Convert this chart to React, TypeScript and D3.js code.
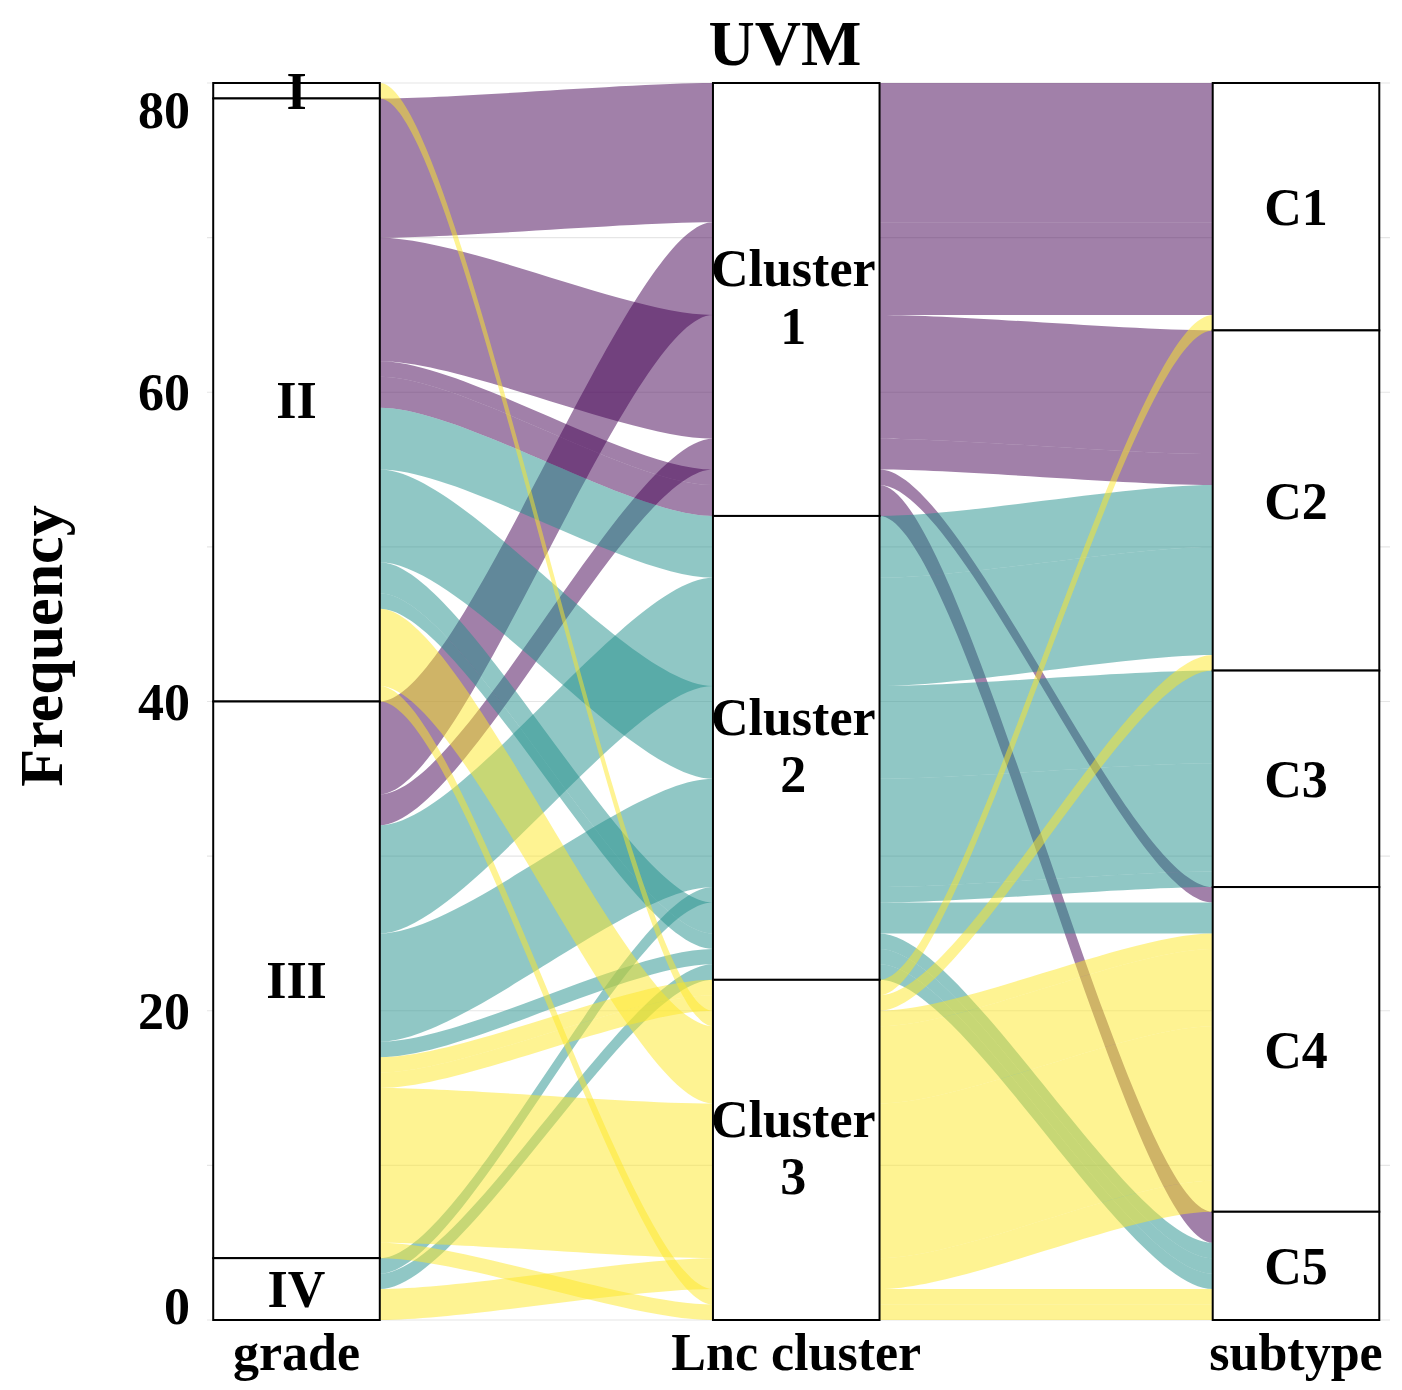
import React from "react";
import * as d3 from "d3";

// Factor levels, top to bottom on each axis
const grades = ["I", "II", "III", "IV"];
const clusters = ["Cluster 1", "Cluster 2", "Cluster 3"];
const clusterLines = [["Cluster", "1"], ["Cluster", "2"], ["Cluster", "3"]];
const subtypes = ["C1", "C2", "C3", "C4", "C5"];
const axisTitles = ["grade", "Lnc cluster", "subtype"];
const clusterColors = ["#440154", "#21908C", "#FDE725"];
const yTicks = [0, 20, 40, 60, 80];
const yGrid = [0, 10, 20, 30, 40, 50, 60, 70, 80];

// One alluvium per grade / cluster / subtype combination, with its patient count
const flowGrade = ["I", "II", "II", "II", "II", "II", "II", "II", "II", "II", "II", "III", "III", "III", "III", "III", "III", "III", "III", "III", "IV", "IV", "IV"];
const flowCluster = ["Cluster 3", "Cluster 1", "Cluster 1", "Cluster 1", "Cluster 1", "Cluster 2", "Cluster 2", "Cluster 2", "Cluster 2", "Cluster 3", "Cluster 3", "Cluster 1", "Cluster 1", "Cluster 2", "Cluster 2", "Cluster 2", "Cluster 3", "Cluster 3", "Cluster 3", "Cluster 3", "Cluster 2", "Cluster 2", "Cluster 3"];
const flowSubtype = ["C4", "C1", "C2", "C4", "C5", "C2", "C3", "C4", "C5", "C4", "C5", "C1", "C2", "C2", "C3", "C5", "C1", "C2", "C4", "C5", "C3", "C5", "C4"];
const flowCount = [1, 9, 8, 1, 2, 4, 6, 2, 1, 5, 1, 6, 2, 7, 7, 1, 1, 1, 10, 1, 1, 1, 2];

const W = 1402;
const H = 1390;
const FONT = "'Liberation Serif', 'Times New Roman', Times, serif";

// Sort keys used to stack lodes inside each axis (axis itself, then the others)
const lodeKeys = [[0, 1, 2], [1, 2, 0], [2, 1, 0]];

export default function App() {
  const levels = [grades, clusters, subtypes];
  const alluvia = flowCount.map((n, i) => ({
    k: [grades.indexOf(flowGrade[i]), clusters.indexOf(flowCluster[i]), subtypes.indexOf(flowSubtype[i])],
    n,
  }));
  const total = d3.sum(flowCount);

  const x = d3.scaleLinear().domain([1, 3]).range([296.5, 1296]);
  const y = d3.scaleLinear().domain([0, total]).range([1320, 83]);
  const halfW = (x(2) - x(1)) / 6;

  // lode extents [top, bottom] in data units for each axis and alluvium
  const lodes = lodeKeys.map((keys) => {
    const order = d3.range(alluvia.length).sort((a, b) => {
      for (const k of keys) {
        const d = alluvia[a].k[k] - alluvia[b].k[k];
        if (d) return d;
      }
      return a - b;
    });
    const pos: { top: number; bot: number }[] = new Array(alluvia.length);
    let cum = total;
    for (const i of order) {
      pos[i] = { top: cum, bot: cum - alluvia[i].n };
      cum -= alluvia[i].n;
    }
    return pos;
  });

  const strata = levels.map((lv, a) =>
    lv.map((name, li) => {
      const members = alluvia.map((al, i) => (al.k[a] === li ? i : -1)).filter((i) => i >= 0);
      return {
        name,
        li,
        top: d3.max(members, (i) => lodes[a][i].top) as number,
        bot: d3.min(members, (i) => lodes[a][i].bot) as number,
      };
    })
  );

  const ribbon = (i: number, a: number) => {
    const x0 = x(a + 1) + halfW;
    const x1 = x(a + 2) - halfW;
    const kx = (x1 - x0) / 4;
    const t0 = y(lodes[a][i].top), t1 = y(lodes[a + 1][i].top);
    const b0 = y(lodes[a][i].bot), b1 = y(lodes[a + 1][i].bot);
    const p = d3.path();
    p.moveTo(x0, t0);
    p.bezierCurveTo(x0 + kx, t0, x1 - kx, t1, x1, t1);
    p.lineTo(x1, b1);
    p.bezierCurveTo(x1 - kx, b1, x0 + kx, b0, x0, b0);
    p.closePath();
    return p.toString();
  };

  const drawOrder = d3.range(alluvia.length).sort((a, b) => alluvia[a].k[1] - alluvia[b].k[1] || a - b);

  const [yTop, yBot] = [y(total), y(0)];

  return (
    <svg width={W} height={H} style={{ position: "absolute", left: 0, top: 0, background: "#fff" }} fontFamily={FONT} fontWeight="bold">
      {/* grid */}
      <g stroke="#e6e6e6" strokeWidth={1.2}>
        {yGrid.map((v) => (
          <line key={v} x1={207} x2={1390} y1={y(v)} y2={y(v)} />
        ))}
      </g>

      {/* alluvia, one ribbon per gap between axes */}
      <g>
        {drawOrder.map((i) =>
          [0, 1].map((a) => (
            <path key={`${i}-${a}`} d={ribbon(i, a)} fill={clusterColors[alluvia[i].k[1]]} fillOpacity={0.5} stroke="none" />
          ))
        )}
      </g>

      {/* strata boxes */}
      <g>
        {strata.map((axisStrata, a) =>
          axisStrata.map((s) => (
            <rect key={`${a}-${s.name}`} x={x(a + 1) - halfW} y={y(s.top)} width={2 * halfW} height={y(s.bot) - y(s.top)} fill="#fff" stroke="#000" strokeWidth={2} />
          ))
        )}
      </g>

      {/* strata labels */}
      <g fontSize={52} textAnchor="middle" fill="#000">
        {strata[0].map((s) => (
          <text key={s.name} x={x(1)} y={(y(s.top) + y(s.bot)) / 2} dy="0.35em">{s.name}</text>
        ))}
        {strata[1].map((s) => {
          const cy = (y(s.top) + y(s.bot)) / 2;
          return (
            <text key={s.name} x={x(2) - 3} y={cy} textAnchor="middle">
              <tspan x={x(2) - 3} dy="-0.25em">{clusterLines[s.li][0]}</tspan>
              <tspan x={x(2) - 3} dy="1.1em">{clusterLines[s.li][1]}</tspan>
            </text>
          );
        })}
        {strata[2].map((s) => (
          <text key={s.name} x={x(3)} y={(y(s.top) + y(s.bot)) / 2} dy="0.35em">{s.name}</text>
        ))}
      </g>

      {/* y axis */}
      <g fontSize={52} textAnchor="end">
        {yTicks.map((v) => (
          <text key={v} x={190} y={Math.min(Math.max(y(v), yTop + 27), yBot - 14)} dy="0.35em">{v}</text>
        ))}
      </g>
      <text transform={`translate(62,646) rotate(-90)`} textAnchor="middle" fontSize={62}>Frequency</text>

      {/* x axis titles */}
      <g fontSize={52} textAnchor="middle">
        {axisTitles.map((t, a) => (
          <text key={t} x={x(a + 1)} y={1370}>{t}</text>
        ))}
      </g>

      <text x={785} y={65} textAnchor="middle" fontSize={64}>UVM</text>
    </svg>
  );
}
